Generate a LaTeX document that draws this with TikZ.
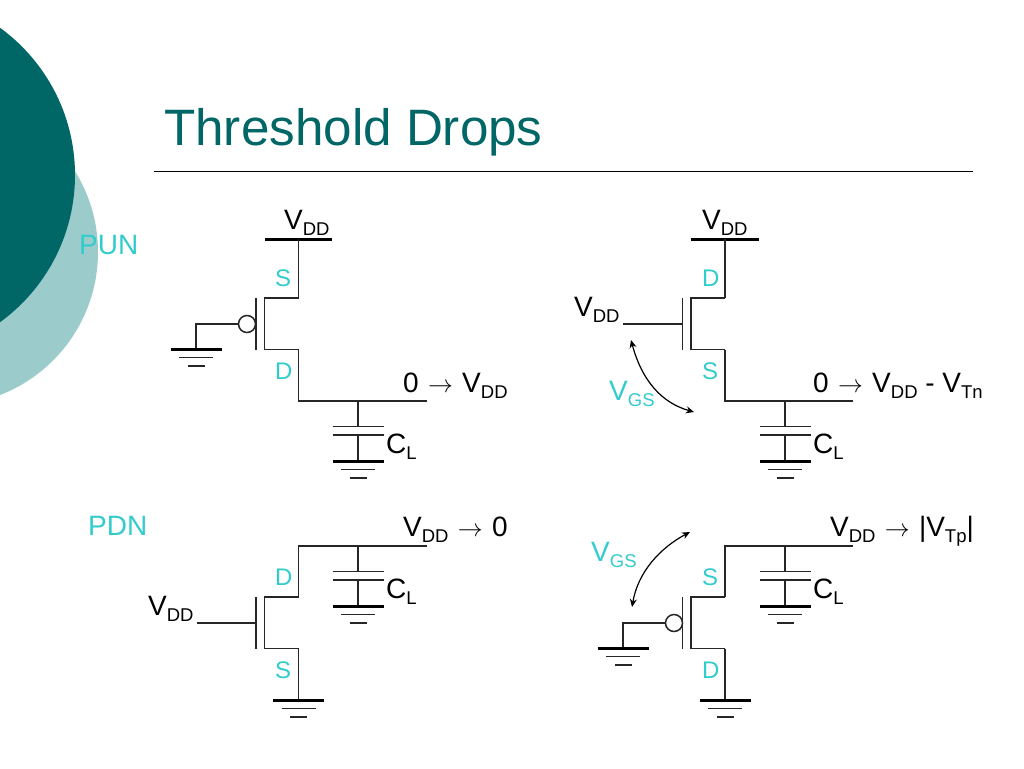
\documentclass[tikz,border=0pt]{standalone}
\usepackage{fontspec}
\setmainfont{Liberation Sans}
\usetikzlibrary{arrows.meta}
\definecolor{tealdark}{HTML}{006666}
\definecolor{teallight}{HTML}{9CCBCC}
\definecolor{lab}{HTML}{33CCCC}
\newcommand{\subs}[2]{#1{\fontsize{18.5}{19}\selectfont\raisebox{-0.33em}{#2}}}
\newcommand{\arr}{\kern1.5pt{\fontsize{28.5}{28}\selectfont$\rightarrow$}\kern1.5pt}
\tikzset{
 x=1pt,y=-1pt,
 wire/.style={draw=black!85,line width=1.5pt},
 gndbar/.style={draw=black,line width=3pt},
 blk/.style={inner sep=0pt,anchor=base west,text=black,font=\fontsize{28}{29}\selectfont},
 cy/.style={inner sep=0pt,anchor=base west,text=lab,font=\fontsize{24}{26}\selectfont},
 cybig/.style={inner sep=0pt,anchor=base west,text=lab,font=\fontsize{28}{29}\selectfont},
 dbl/.style={{Stealth[length=8pt,width=7pt]}-{Stealth[length=8pt,width=7pt]},line width=1.2pt},
 bub/.style={circle,draw=black!85,line width=1.5pt,minimum size=17pt,inner sep=0pt,fill=white}
}
\newcommand{\gnd}[2]{% x y of thick bar
 \draw[gndbar] (#1-25.5,#2) -- (#1+25.5,#2);
 \draw[wire] (#1-17,#2+8.7) -- (#1+17,#2+8.7);
 \draw[wire] (#1-8.5,#2+17) -- (#1+8.5,#2+17);
}
\newcommand{\capac}[3]{% stem x, top wire y, name prefix
 \coordinate (#3t) at (#1,#2);
 \coordinate (#3a) at (#1,#2+25.5);
 \coordinate (#3b) at (#1,#2+34);
 \coordinate (#3g) at (#1,#2+60);
 \draw[wire] (#3t) -- (#3a);
 \draw[wire] (#3b) -- (#3g);
 \draw[wire] (#1-25.5,#2+25.5) -- (#1+25.5,#2+25.5);
 \draw[wire] (#1-25.5,#2+34) -- (#1+25.5,#2+34);
 \gnd{#1}{#2+60}
 \node[blk] (#3l) at (#1+28,#2+52.5) {\subs{C}{L}};
}
\newcommand{\mosfet}[3]{% drain-side x, y top, prefix
 \coordinate (#3tr) at (#1,#2);
 \coordinate (#3tl) at (#1-34,#2);
 \coordinate (#3bl) at (#1-34,#2+51.5);
 \coordinate (#3br) at (#1,#2+51.5);
 \coordinate (#3ga) at (#1-42.5,#2);
 \coordinate (#3gb) at (#1-42.5,#2+51.5);
 \draw[wire] (#3tr) -- (#3tl) -- (#3bl) -- (#3br);
 \draw[wire] (#3ga) -- (#3gb);
}
\begin{document}
\begin{tikzpicture}
\useasboundingbox (0,0) rectangle (1024,768);
\fill[white] (0,0) rectangle (1024,768);
\begin{scope}
\clip (0,0) rectangle (1024,768);
\fill[teallight] (-55.3,252) circle (153.3);
\fill[tealdark] (-107,175) circle (182);
\end{scope}
\node[inner sep=0pt,anchor=base west,text=tealdark,font=\fontsize{51.2}{52}\selectfont] (title) at (164,145) {Threshold Drops};
\coordinate (ruleL) at (154,171);
\coordinate (ruleR) at (973,171);
\draw[black,line width=1pt] (ruleL) -- (ruleR);
\node[cybig] (pun) at (79,254.5) {PUN};
\node[cybig] (pdn) at (88,535.5) {PDN};

% --- top left
\draw[gndbar] (265,239) -- (332,239);
\node[blk] (vdd1) at (284,229) {\subs{V}{DD}};
\coordinate (a1) at (298.5,239);
\mosfet{298.5}{298}{m1}
\draw[wire] (a1) -- (m1tr);
\coordinate (o1c) at (298.5,401);
\coordinate (o1e) at (427,401);
\draw[wire] (m1br) -- (o1c) -- (o1e);
\capac{358}{401}{c1}
\node[bub] (b1) at (247,324) {};
\coordinate (g1) at (196,324);
\coordinate (g1d) at (196,349);
\draw[wire] (b1) -- (g1) -- (g1d);
\gnd{196}{349}
\node[cy] (s1) at (275,286) {S};
\node[cy] (d1) at (275,379) {D};
\node[blk] (out1) at (403,392) {0 \arr{} \subs{V}{DD}};

% --- top right
\draw[gndbar] (691,239) -- (759,239);
\node[blk] (vdd2) at (702,229) {\subs{V}{DD}};
\coordinate (a2) at (725,239);
\mosfet{725}{298}{m2}
\draw[wire] (a2) -- (m2tr);
\coordinate (o2c) at (725,401);
\coordinate (o2e) at (853,401);
\draw[wire] (m2br) -- (o2c) -- (o2e);
\capac{785}{401}{c2}
\coordinate (g2) at (623,324);
\coordinate (g2e) at (682.5,324);
\draw[wire] (g2) -- (g2e);
\node[blk] (vddg2) at (574,316) {\subs{V}{DD}};
\node[cy] (d2) at (702,286) {D};
\node[cy] (s2) at (702,379) {S};
\node[cybig] (vgs2) at (609,400) {\subs{V}{GS}};
\node[blk] (out2) at (813,392) {0 \arr{} \subs{V}{DD} - \subs{V}{Tn}};
\coordinate (ar2a) at (631,340);
\coordinate (ar2b) at (694,412);
\draw[dbl] (ar2a) .. controls (642,381) and (662,403) .. (ar2b);

% --- bottom left
\coordinate (o3e) at (427,546);
\coordinate (o3c) at (298.5,546);
\mosfet{298.5}{597}{m3}
\draw[wire] (o3e) -- (o3c) -- (m3tr);
\coordinate (a3) at (298.5,700);
\draw[wire] (m3br) -- (a3);
\gnd{298.5}{700}
\capac{358}{546}{c3}
\coordinate (g3) at (197,623);
\coordinate (g3e) at (256,623);
\draw[wire] (g3) -- (g3e);
\node[blk] (vddg3) at (148,615) {\subs{V}{DD}};
\node[cy] (d3) at (275,585) {D};
\node[cy] (s3) at (275,678) {S};
\node[blk] (out3) at (403,536) {\subs{V}{DD} \arr{} 0};

% --- bottom right
\coordinate (o4e) at (853,546);
\coordinate (o4c) at (725,546);
\mosfet{725}{597}{m4}
\draw[wire] (o4e) -- (o4c) -- (m4tr);
\coordinate (a4) at (725,700);
\draw[wire] (m4br) -- (a4);
\gnd{725}{700}
\capac{785}{546}{c4}
\node[bub] (b4) at (674,623) {};
\coordinate (g4) at (623,623);
\coordinate (g4d) at (623,648);
\draw[wire] (b4) -- (g4) -- (g4d);
\gnd{623}{648}
\node[cy] (s4) at (702,585) {S};
\node[cy] (d4) at (702,678) {D};
\node[cybig] (vgs4) at (591,561) {\subs{V}{GS}};
\node[blk] (out4) at (830,536) {\subs{V}{DD} \arr{} |\subs{V}{Tp}|};
\coordinate (ar4a) at (632,607);
\coordinate (ar4b) at (690,532);
\draw[dbl] (ar4a) .. controls (638,572) and (660,548) .. (ar4b);
\end{tikzpicture}
\end{document}
